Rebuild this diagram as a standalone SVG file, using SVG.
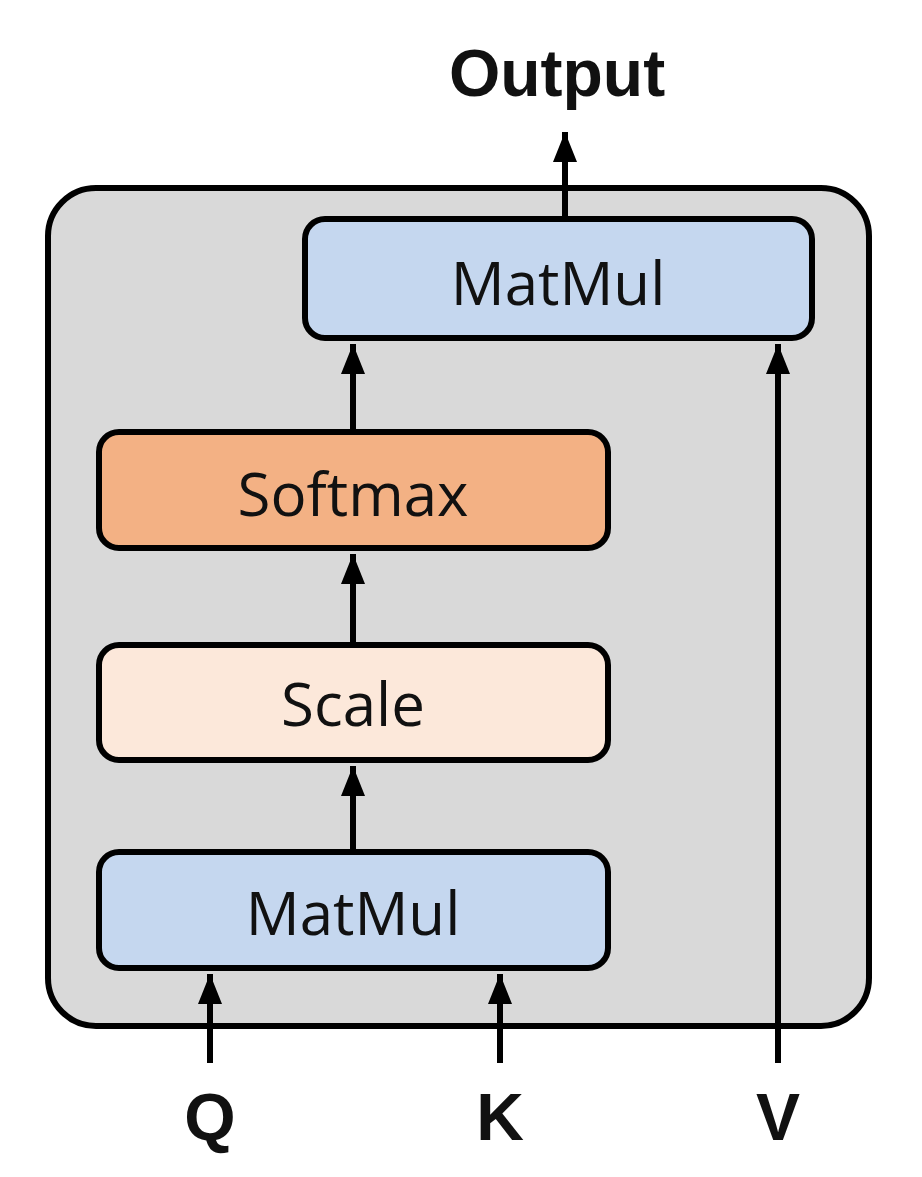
<svg xmlns="http://www.w3.org/2000/svg" width="922" height="1177" viewBox="0 0 922 1177">
<defs>
<marker id="ah" markerWidth="5" markerHeight="4" refX="5" refY="2" orient="auto" markerUnits="strokeWidth"><path d="M0,0 L5,2 L0,4 z" fill="#000"/></marker>
<style>
.box{stroke:#000;stroke-width:6}
.t{font-family:"Open Sans","Noto Sans",sans-serif;font-size:60px;text-anchor:middle;fill:#111}
.b{font-family:"Liberation Sans",Arial,sans-serif;font-weight:bold;font-size:66px;text-anchor:middle;fill:#111}
.c{stroke:#000;stroke-width:6;fill:none;marker-end:url(#ah)}
</style>
</defs>
<rect width="922" height="1177" fill="#fff"/>
<g id="container"><rect x="48" y="188" width="821" height="838" rx="48" fill="#d9d9d9" class="box"/></g>
<g id="matmul-top"><rect x="305" y="219" width="507" height="119" rx="20" fill="#c5d7ef" class="box"/><text x="558" y="305" class="t">MatMul</text></g>
<g id="softmax"><rect x="99" y="432" width="509" height="116" rx="20" fill="#f3b184" class="box"/><text x="353" y="516" class="t">Softmax</text></g>
<g id="scale"><rect x="99" y="645" width="509" height="115" rx="20" fill="#fce8da" class="box"/><text x="353" y="726" class="t">Scale</text></g>
<g id="matmul-bottom"><rect x="99" y="852" width="509" height="116" rx="20" fill="#c5d7ef" class="box"/><text x="353" y="935" class="t">MatMul</text></g>
<g id="connectors">
<line x1="565" y1="216" x2="565" y2="132" class="c"/>
<line x1="353" y1="430" x2="353" y2="344" class="c"/>
<line x1="353" y1="643" x2="353" y2="554" class="c"/>
<line x1="353" y1="850" x2="353" y2="766" class="c"/>
<line x1="210" y1="1063" x2="210" y2="974" class="c"/>
<line x1="500" y1="1063" x2="500" y2="974" class="c"/>
<line x1="778" y1="1063" x2="778" y2="344" class="c"/>
</g>
<text x="557" y="96" class="b">Output</text>
<text x="210" y="1140" class="b">Q</text>
<text x="500" y="1140" class="b">K</text>
<text x="778" y="1140" class="b">V</text>
</svg>
